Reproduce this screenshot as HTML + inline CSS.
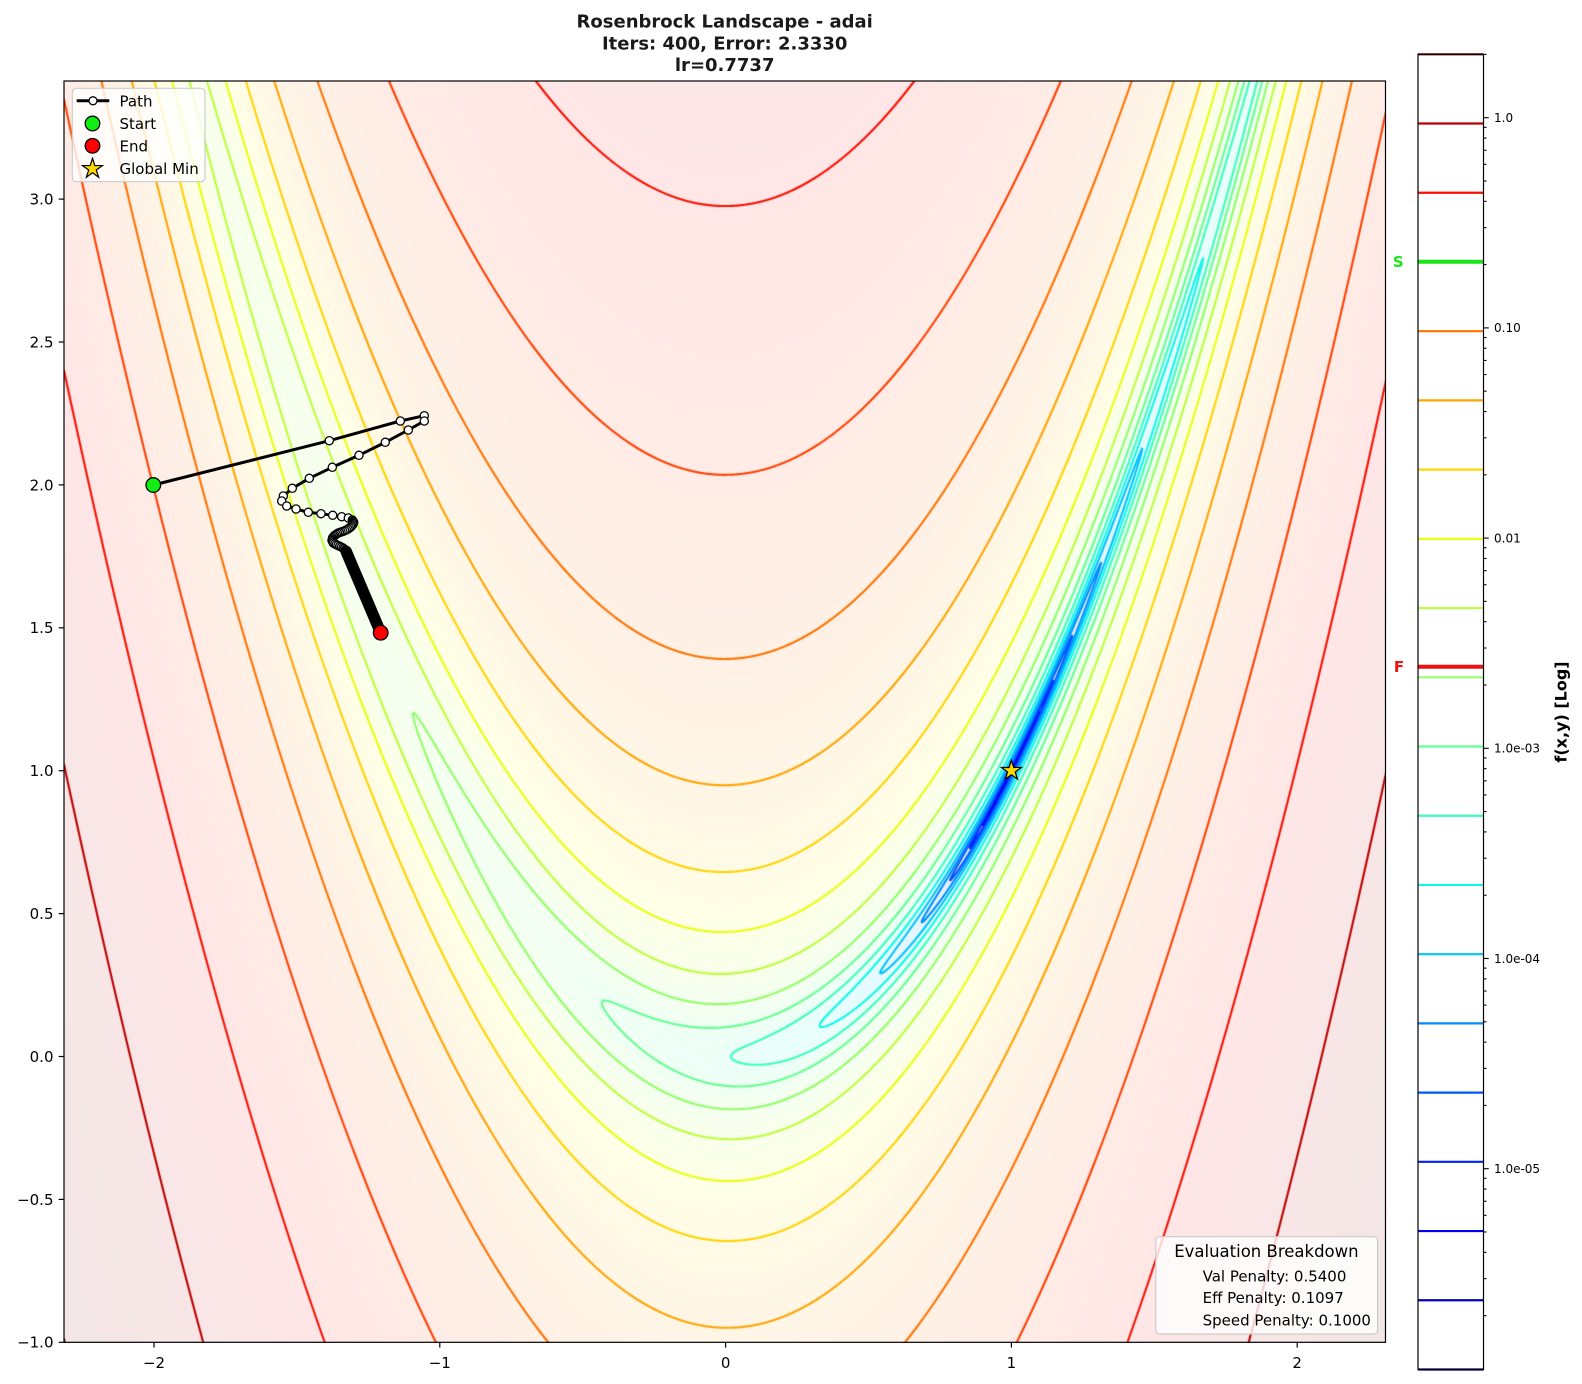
<!DOCTYPE html>
<html><head><meta charset="utf-8">
<style>
html,body{margin:0;padding:0;background:#fff;}
#wrap{position:relative;width:1582px;height:1384px;overflow:hidden;background:#fff;font-family:"DejaVu Sans","Liberation Sans",sans-serif;}
#c{position:absolute;left:64px;top:81px;}
#s{position:absolute;left:0;top:0;}
</style></head>
<body><div id="wrap">
<canvas id="c" width="1322" height="1262"></canvas>
<svg id="s" width="1582" height="1384" xmlns="http://www.w3.org/2000/svg" font-family="DejaVu Sans, Liberation Sans, sans-serif">
<!-- title -->
<g font-weight="bold" font-size="18" fill="#1a1a1a" text-anchor="middle">
<text x="724.7" y="27.6">Rosenbrock Landscape - adai</text>
<text x="724.7" y="49.3">Iters: 400, Error: 2.3330</text>
<text x="724.7" y="70.9">lr=0.7737</text>
</g>
<!-- path -->
<g id="pathg">
<polyline id="pl" fill="none" stroke="#000" stroke-width="3" stroke-linejoin="round" points=""/>
<g id="pm"></g>
<line x1="346.2" y1="551.5" x2="380.7" y2="632.7" stroke="#000" stroke-width="11.5" stroke-linecap="round"/>
<circle cx="153.3" cy="485" r="7.3" fill="#11ee11" stroke="#000" stroke-width="1.3"/>
<circle cx="380.7" cy="632.7" r="7.3" fill="#ff0000" stroke="#000" stroke-width="1.3"/>
<polygon transform="translate(1011.4,770.7)" fill="#ffd700" stroke="#000" stroke-width="1.2" stroke-linejoin="miter" points="0,-10.5 2.351,-3.236 9.986,-3.245 3.804,1.236 6.172,8.495 0,4 -6.172,8.495 -3.804,1.236 -9.986,-3.245 -2.351,-3.236"/>
</g>
<!-- axes spines -->
<rect x="64" y="81" width="1321.5" height="1261.3" fill="none" stroke="#000" stroke-width="1.2"/>
<!-- ticks -->
<g stroke="#000" stroke-width="1.2">
<line x1="154" y1="1342.3" x2="154" y2="1347.6"/>
<line x1="439.8" y1="1342.3" x2="439.8" y2="1347.6"/>
<line x1="725.6" y1="1342.3" x2="725.6" y2="1347.6"/>
<line x1="1011.4" y1="1342.3" x2="1011.4" y2="1347.6"/>
<line x1="1297.2" y1="1342.3" x2="1297.2" y2="1347.6"/>
<line x1="58.7" y1="1342.3" x2="64" y2="1342.3"/>
<line x1="58.7" y1="1199.4" x2="64" y2="1199.4"/>
<line x1="58.7" y1="1056.5" x2="64" y2="1056.5"/>
<line x1="58.7" y1="913.6" x2="64" y2="913.6"/>
<line x1="58.7" y1="770.7" x2="64" y2="770.7"/>
<line x1="58.7" y1="627.8" x2="64" y2="627.8"/>
<line x1="58.7" y1="484.9" x2="64" y2="484.9"/>
<line x1="58.7" y1="342" x2="64" y2="342"/>
<line x1="58.7" y1="199.1" x2="64" y2="199.1"/>
</g>
<g font-size="15" fill="#000" text-anchor="middle">
<text x="154" y="1368">−2</text>
<text x="439.8" y="1368">−1</text>
<text x="725.6" y="1368">0</text>
<text x="1011.4" y="1368">1</text>
<text x="1297.2" y="1368">2</text>
</g>
<g font-size="15" fill="#000" text-anchor="end">
<text x="53.5" y="1347.7">−1.0</text>
<text x="53.5" y="1204.8">−0.5</text>
<text x="53.5" y="1061.9">0.0</text>
<text x="53.5" y="919">0.5</text>
<text x="53.5" y="776.1">1.0</text>
<text x="53.5" y="633.2">1.5</text>
<text x="53.5" y="490.3">2.0</text>
<text x="53.5" y="347.4">2.5</text>
<text x="53.5" y="204.5">3.0</text>
</g>
<!-- legend -->
<rect x="72.3" y="88.3" width="132.7" height="93.4" rx="4" fill="#fff" fill-opacity="0.8" stroke="#cccccc" stroke-width="1.2"/>
<line x1="76.7" y1="100.8" x2="109.3" y2="100.8" stroke="#000" stroke-width="3"/>
<circle cx="93" cy="100.8" r="4" fill="#fff" stroke="#000" stroke-width="1.3"/>
<circle cx="92.5" cy="123.5" r="7.3" fill="#11ee11" stroke="#000" stroke-width="1.3"/>
<circle cx="92.5" cy="145.8" r="7.3" fill="#ff0000" stroke="#000" stroke-width="1.3"/>
<polygon transform="translate(92.5,168.8)" fill="#ffd700" stroke="#000" stroke-width="1.2" points="0,-10.5 2.351,-3.236 9.986,-3.245 3.804,1.236 6.172,8.495 0,4 -6.172,8.495 -3.804,1.236 -9.986,-3.245 -2.351,-3.236"/>
<g font-size="15" fill="#000">
<text x="119.5" y="106.3">Path</text>
<text x="119.5" y="128.8">Start</text>
<text x="119.5" y="151.3">End</text>
<text x="119.5" y="173.8">Global Min</text>
</g>
<!-- eval box -->
<rect x="1155.8" y="1236.7" width="221.8" height="97.3" rx="4" fill="#fff" fill-opacity="0.8" stroke="#cccccc" stroke-width="1.2"/>
<text x="1266.4" y="1257" font-size="16.5" text-anchor="middle" fill="#000">Evaluation Breakdown</text>
<g font-size="15" fill="#000">
<text x="1202.6" y="1281.5">Val Penalty: 0.5400</text>
<text x="1202.6" y="1303.2">Eff Penalty: 0.1097</text>
<text x="1202.6" y="1325.5">Speed Penalty: 0.1000</text>
</g>
<!-- colorbar -->
<rect x="1418" y="54.3" width="65.5" height="1315.2" fill="#fff" stroke="none"/>
<g id="cbl" stroke-width="2.2"></g>
<line x1="1418" y1="261.7" x2="1483.5" y2="261.7" stroke="#1ae41a" stroke-width="4"/>
<line x1="1418" y1="666.7" x2="1483.5" y2="666.7" stroke="#ee1111" stroke-width="4"/>
<rect x="1418" y="54.3" width="65.5" height="1315.2" fill="none" stroke="#000" stroke-width="1.2"/>
<g id="cbt" stroke="#000" stroke-width="1.1"></g>
<g font-size="12" fill="#000">
<text x="1494" y="122">1.0</text>
<text x="1494" y="332.2">0.10</text>
<text x="1494" y="542.4">0.01</text>
<text x="1494" y="752.6">1.0e-03</text>
<text x="1494" y="962.8">1.0e-04</text>
<text x="1494" y="1173">1.0e-05</text>
</g>
<text x="1398.3" y="267.2" font-size="15" font-weight="bold" fill="#1ae41a" text-anchor="middle">S</text>
<text x="1399" y="672.2" font-size="15" font-weight="bold" fill="#ee1111" text-anchor="middle">F</text>
<text transform="translate(1566.5,712) rotate(-90)" font-size="16" font-weight="bold" fill="#000" text-anchor="middle">f(x,y) [Log]</text>
</svg>
</div>
<script>
(function(){
var NS="http://www.w3.org/2000/svg";
var W=1322,H=1262,S=285.8,X0=725.6,Y0=1056.5,OX=64,OY=81;
var lnMin=Math.log(0.00223),lnMax=Math.log(4040);
var R=[[0,0],[0.35,0],[0.66,1],[0.89,1],[1,0.5]];
var G=[[0,0],[0.125,0],[0.375,1],[0.64,1],[0.91,0],[1,0]];
var B=[[0,0.5],[0.11,1],[0.34,1],[0.65,0],[1,0]];
function itp(p,t){for(var i=1;i<p.length;i++){if(t<=p[i][0]){var a=p[i-1],b=p[i];return a[1]+(b[1]-a[1])*(t-a[0])/(b[0]-a[0]);}}return p[p.length-1][1];}
function jet(t){return [itp(R,t),itp(G,t),itp(B,t)];}
function rgb(c){return 'rgb('+Math.round(c[0]*255)+','+Math.round(c[1]*255)+','+Math.round(c[2]*255)+')';}

/* path polyline + markers */
var pts=[[153.3,485],[329.3,440.7],[400.3,421],[424.3,415.7],[424.3,421],[408.3,430],[385.3,442.3],[359,455.3],[332.3,467.3],[309.3,478.3],[292.3,488.3],[283.3,496],[281.7,501],[286.7,506],[296,509],[308.3,512.3],[321,513.7],[332.7,515.3],[341.7,516.7],[348.3,518],[352.3,520],[353.7,522.3],[352.7,524.7],[350.7,527],[348,529],[344.7,530.7],[341,532],[337.7,533.3],[334.7,535.3],[332.7,537.7],[332,540.3],[333.3,543],[336.3,544.7],[339.7,546.3],[343,548],[345.3,550],[346.7,552.3],[380.7,632.7]];
document.getElementById('pl').setAttribute('points',pts.map(function(p){return p[0]+','+p[1];}).join(' '));
var pm=document.getElementById('pm');
function addC(x,y){var c=document.createElementNS(NS,'circle');c.setAttribute('cx',x);c.setAttribute('cy',y);c.setAttribute('r',4.1);c.setAttribute('fill','#fff');c.setAttribute('stroke','#000');c.setAttribute('stroke-width',1.3);pm.appendChild(c);}
for(var i=1;i<pts.length-1;i++){
  if(i>=20){var a=pts[i],b=pts[i+1]; if(i<pts.length-2){addC(a[0],a[1]);addC((a[0]+b[0])/2,(a[1]+b[1])/2);} else addC(a[0],a[1]);}
  else addC(pts[i][0],pts[i][1]);
}

/* colorbar lines & ticks */
var cbl=document.getElementById('cbl');
for(var k=0;k<20;k++){var y=1369.5-k*(1315.2/19);var l=document.createElementNS(NS,'line');l.setAttribute('x1',1418);l.setAttribute('x2',1483.5);l.setAttribute('y1',y);l.setAttribute('y2',y);l.setAttribute('stroke',rgb(jet(k/19)));cbl.appendChild(l);}
var cbt=document.getElementById('cbt');
function tick(y,len){if(y<54||y>1370)return;var l=document.createElementNS(NS,'line');l.setAttribute('x1',1483.5);l.setAttribute('x2',1483.5+len);l.setAttribute('y1',y);l.setAttribute('y2',y);cbt.appendChild(l);}
for(var n=0;n<=6;n++){var yn=117.7+210.2*n;tick(yn,5.25);for(var m=2;m<=9;m++){tick(yn-210.2*Math.log10(m),3);}}

/* background */
var cv=document.getElementById('c');var ctx=cv.getContext('2d');
var img=ctx.createImageData(W,H);var d=img.data;var N=1024;var lut=new Uint8ClampedArray(N*3);
for(var i2=0;i2<N;i2++){var c=jet(i2/(N-1));for(var q=0;q<3;q++)lut[i2*3+q]=Math.round(255*(0.9+0.1*c[q]));}
var den=lnMax-lnMin;
for(var j=0;j<H;j++){var yy=(Y0-(OY+j+0.5))/S;for(var ii=0;ii<W;ii++){var x=(OX+ii+0.5-X0)/S;var a1=1-x,b1=yy-x*x;var f=a1*a1+100*b1*b1;var t=(Math.log(f)-lnMin)/den;if(t<0)t=0;if(t>1)t=1;var qq=Math.round(t*(N-1))*3;var o=(j*W+ii)*4;d[o]=lut[qq];d[o+1]=lut[qq+1];d[o+2]=lut[qq+2];d[o+3]=255;}}
ctx.putImageData(img,0,0);

/* contours */
var NW=W+1,NH=H+1;var F=new Float64Array(NW*NH);
for(var j3=0;j3<NH;j3++){var y3=(Y0-(OY+j3))/S;for(var i3=0;i3<NW;i3++){var x3=(OX+i3-X0)/S;var a3=1-x3,b3=y3-x3*x3;F[j3*NW+i3]=a3*a3+100*b3*b3;}}
ctx.lineWidth=2.1;ctx.lineCap='round';ctx.lineJoin='round';
for(var k2=0;k2<20;k2++){
  var L=Math.exp(lnMin+k2/19*den);
  ctx.strokeStyle=rgb(jet(k2/19));
  ctx.beginPath();
  for(var j4=0;j4<H;j4++){
    var r0=j4*NW,r1=r0+NW;
    for(var i4=0;i4<W;i4++){
      var A=F[r0+i4],Bv=F[r0+i4+1],C=F[r1+i4+1],D=F[r1+i4];
      var sa=A>L,sb=Bv>L,sc=C>L,sd=D>L;
      if(sa===sb&&sb===sc&&sc===sd)continue;
      var P=[];
      var tx=null,ty,rx=null,ry,bx=null,by,lx=null,ly;
      if(sa!==sb){tx=i4+(L-A)/(Bv-A);ty=j4;}
      if(sb!==sc){rx=i4+1;ry=j4+(L-Bv)/(C-Bv);}
      if(sd!==sc){bx=i4+(L-D)/(C-D);by=j4+1;}
      if(sa!==sd){lx=i4;ly=j4+(L-A)/(D-A);}
      var cnt=(tx!==null)+(rx!==null)+(bx!==null)+(lx!==null);
      if(cnt===2){
        if(tx!==null)P.push([tx,ty]);if(rx!==null)P.push([rx,ry]);if(bx!==null)P.push([bx,by]);if(lx!==null)P.push([lx,ly]);
        ctx.moveTo(P[0][0],P[0][1]);ctx.lineTo(P[1][0],P[1][1]);
      } else if(cnt===4){
        var cen=(A+Bv+C+D)/4>L;
        if(cen===sa){ctx.moveTo(tx,ty);ctx.lineTo(rx,ry);ctx.moveTo(bx,by);ctx.lineTo(lx,ly);}
        else{ctx.moveTo(tx,ty);ctx.lineTo(lx,ly);ctx.moveTo(rx,ry);ctx.lineTo(bx,by);}
      }
    }
  }
  ctx.stroke();
}
})();
</script>
</body></html>
